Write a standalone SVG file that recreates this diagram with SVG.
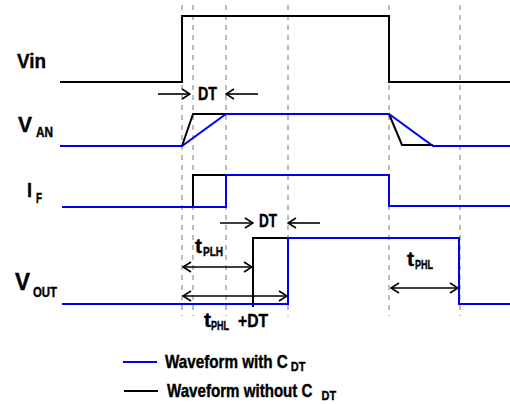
<svg xmlns="http://www.w3.org/2000/svg" width="510" height="404" viewBox="0 0 510 404">
<defs>
<style>
.lbl{font-family:"Liberation Sans",Arial,sans-serif;font-weight:bold;fill:#000;stroke:#000;stroke-width:0.4}
.dash{stroke:#999;stroke-width:1.3;stroke-dasharray:5 5;fill:none}
.blk{stroke:#000;stroke-width:2;fill:none}
.blu{stroke:#0000ee;stroke-width:2;fill:none}
.arr{stroke:#000;stroke-width:1.6;fill:none}
</style>
<marker id="ah" viewBox="0 0 10 12" refX="9" refY="6" markerWidth="10" markerHeight="12" markerUnits="userSpaceOnUse" orient="auto-start-reverse">
<path d="M1,1 L9,6 L1,11" fill="none" stroke="#000" stroke-width="1.6"/>
</marker>
</defs>
<rect width="510" height="404" fill="#fff"/>
<g id="gridlines">
<line class="dash" x1="182" y1="5" x2="182" y2="316"/>
<line class="dash" x1="193" y1="5" x2="193" y2="316"/>
<line class="dash" x1="226" y1="5" x2="226" y2="316"/>
<line class="dash" x1="288" y1="5" x2="288" y2="316"/>
<line class="dash" x1="389" y1="5" x2="389" y2="316"/>
<line class="dash" x1="460" y1="5" x2="460" y2="316"/>
</g>
<g id="vin">
<polyline class="blk" points="60,82 182,82 182,16 389,16 389,82 510,82"/>
<text class="lbl" x="17" y="68" font-size="21" textLength="29" lengthAdjust="spacingAndGlyphs">Vin</text>
</g>
<g id="van">
<polyline class="blk" points="182,146 193,114 226,114"/>
<polyline class="blk" points="389,114 402,145 433,145"/>
<polyline class="blu" points="60,146 182,146 226,114 389,114 433,146 510,146"/>
<text class="lbl" x="18" y="132" font-size="22" textLength="14" lengthAdjust="spacingAndGlyphs">V</text>
<text class="lbl" x="36" y="137" font-size="14" textLength="17" lengthAdjust="spacingAndGlyphs">AN</text>
</g>
<g id="if">
<polyline class="blk" points="193,207 193,175 226,175"/>
<polyline class="blu" points="62,207 226,207 226,175 389,175 389,206 510,206"/>
<text class="lbl" x="27" y="197" font-size="20" textLength="5" lengthAdjust="spacingAndGlyphs">I</text>
<text class="lbl" x="36" y="203" font-size="14" textLength="6" lengthAdjust="spacingAndGlyphs">F</text>
</g>
<g id="vout">
<polyline class="blk" points="253,307 253,238 288,238"/>
<polyline class="blu" points="62,304 288,304 288,238 459,238 459,304 510,304"/>
<text class="lbl" x="15" y="290" font-size="23" textLength="15" lengthAdjust="spacingAndGlyphs">V</text>
<text class="lbl" x="33" y="297" font-size="14" textLength="24" lengthAdjust="spacingAndGlyphs">OUT</text>
</g>
<g id="connectors">
<line class="arr" x1="158" y1="94" x2="190" y2="94" marker-end="url(#ah)"/>
<line class="arr" x1="258" y1="94" x2="226" y2="94" marker-end="url(#ah)"/>
<line class="arr" x1="220" y1="223" x2="253" y2="223" marker-end="url(#ah)"/>
<line class="arr" x1="320" y1="223" x2="288" y2="223" marker-end="url(#ah)"/>
<line class="arr" x1="183" y1="267" x2="252" y2="267" marker-start="url(#ah)" marker-end="url(#ah)"/>
<line class="arr" x1="183" y1="296" x2="287" y2="296" marker-start="url(#ah)" marker-end="url(#ah)"/>
<line class="arr" x1="391" y1="288" x2="458" y2="288" marker-start="url(#ah)" marker-end="url(#ah)"/>
</g>
<g id="labels">
<text class="lbl" x="198" y="100" font-size="18" textLength="19" lengthAdjust="spacingAndGlyphs">DT</text>
<text class="lbl" x="259" y="227" font-size="18" textLength="18" lengthAdjust="spacingAndGlyphs">DT</text>
<text class="lbl" x="195" y="253" font-size="20" textLength="7" lengthAdjust="spacingAndGlyphs">t</text>
<text class="lbl" x="203" y="256" font-size="13" textLength="20" lengthAdjust="spacingAndGlyphs">PLH</text>
<text class="lbl" x="204" y="327" font-size="20" textLength="7" lengthAdjust="spacingAndGlyphs">t</text>
<text class="lbl" x="211" y="330" font-size="13" textLength="18" lengthAdjust="spacingAndGlyphs">PHL</text>
<text class="lbl" x="238" y="327" font-size="18" textLength="30" lengthAdjust="spacingAndGlyphs">+DT</text>
<text class="lbl" x="407" y="266" font-size="20" textLength="7" lengthAdjust="spacingAndGlyphs">t</text>
<text class="lbl" x="415" y="269" font-size="13" textLength="18" lengthAdjust="spacingAndGlyphs">PHL</text>
</g>
<g id="legend">
<line class="blu" x1="123" y1="362" x2="157" y2="362"/>
<text class="lbl" transform="translate(165,368) scale(0.845,1)" font-size="18">Waveform with C<tspan font-size="13" dy="3">&#160;DT</tspan></text>
<line class="blk" x1="124" y1="391" x2="158" y2="391"/>
<text class="lbl" transform="translate(167,397) scale(0.84,1)" font-size="18">Waveform without C<tspan font-size="13" dy="3">&#160;&#160;&#160;DT</tspan></text>
</g>
</svg>
